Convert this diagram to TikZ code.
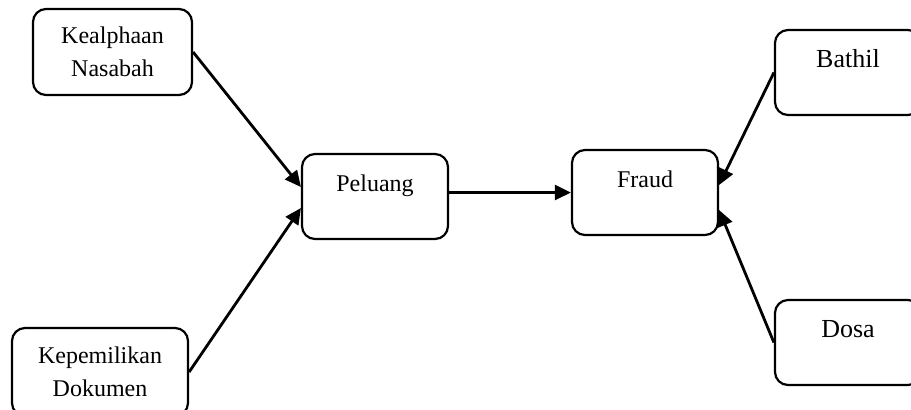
\documentclass[tikz,border=0pt]{standalone}
\usepackage{fontspec}
\setmainfont{Liberation Serif}
\usetikzlibrary{arrows.meta}

\tikzset{
    box/.style={draw, line width=1.1pt, rounded corners=6.5pt, minimum width=73pt, minimum height=42.5pt, font=\fontsize{12pt}{16.5pt}\selectfont},
    onebox/.style={box, text height=9pt, text depth=14pt},
    arr/.style={-{Triangle[length=8pt,width=7.5pt]}, line width=1.4pt}
}

\begin{document}
\begin{tikzpicture}[x=0.5pt, y=-0.5pt]
    \useasboundingbox (0,0) rectangle (911,409);

    \draw(112.5,52) node[box, align=center, minimum width=79.5pt, minimum height=43pt] (kea) {Kealphaan\\Nasabah};
    \draw(100,372) node[box, align=center, minimum width=88pt, minimum height=44pt] (kep) {Kepemilikan\\Dokumen};

    \draw(375,196.5) node[onebox] (pel) {Peluang};
    \draw(645,192.5) node[onebox] (fr) {Fraud};

    \draw(848,72.5) node[onebox, font=\fontsize{13pt}{16pt}\selectfont] (bat) {Bathil};
    \draw(848,342.5) node[onebox, font=\fontsize{13pt}{16pt}\selectfont] (dos) {Dosa};

    \draw[arr] (kea.east) to ([yshift=4.75pt]pel.west);
    \draw[arr] (kep.east) to ([yshift=-5.75pt]pel.west);
    \draw[arr] (pel.east |- fr.west) to (fr.west);
    \draw[arr] (bat.west) to ([yshift=3.75pt]fr.east);
    \draw[arr] (dos.west) to ([yshift=-8.75pt]fr.east);

\end{tikzpicture}
\end{document}
